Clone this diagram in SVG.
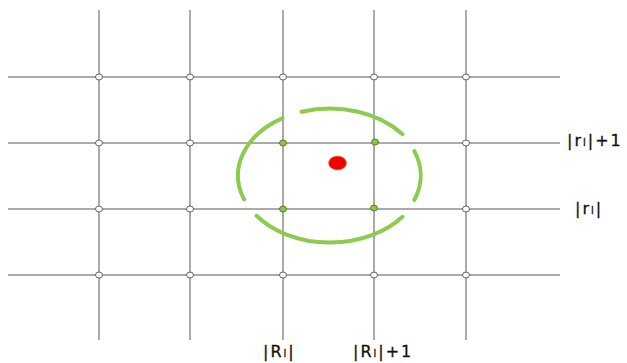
<svg xmlns="http://www.w3.org/2000/svg" width="627" height="363" viewBox="0 0 627 363">
<style>
.g{stroke:#555;stroke-width:1;fill:none}
.n{fill:#fff;stroke:#555;stroke-width:0.9}
.gn{fill:#8cc63f;stroke:#4a6a2a;stroke-width:0.8}
.arc{fill:none;stroke:#8dcb50;stroke-width:4;stroke-linecap:round}
.t{font-family:"DejaVu Sans",Verdana,sans-serif;font-size:16px;fill:#111;letter-spacing:2px;stroke:#111;stroke-width:0.3}
.s{font-size:10px}
</style>
<rect width="627" height="363" fill="#fff"/>
<g id="connectors">
<line class="g" x1="99" y1="10" x2="99" y2="340"/>
<line class="g" x1="190" y1="10" x2="190" y2="340"/>
<line class="g" x1="283" y1="10" x2="283" y2="340"/>
<line class="g" x1="374" y1="10" x2="374" y2="340"/>
<line class="g" x1="466" y1="10" x2="466" y2="340"/>
<line class="g" x1="8" y1="77" x2="560" y2="77"/>
<line class="g" x1="8" y1="143" x2="560" y2="143"/>
<line class="g" x1="8" y1="209" x2="560" y2="209"/>
<line class="g" x1="8" y1="275" x2="560" y2="275"/>
</g>
<g id="nodes">
<ellipse class="n" cx="99" cy="77" rx="3.5" ry="3"/>
<ellipse class="n" cx="190" cy="77" rx="3.5" ry="3"/>
<ellipse class="n" cx="283" cy="77" rx="3.5" ry="3"/>
<ellipse class="n" cx="374" cy="77" rx="3.5" ry="3"/>
<ellipse class="n" cx="466" cy="77" rx="3.5" ry="3"/>
<ellipse class="n" cx="99" cy="143" rx="3.5" ry="3"/>
<ellipse class="n" cx="190" cy="143" rx="3.5" ry="3"/>
<ellipse class="gn" cx="283" cy="143" rx="3.5" ry="3"/>
<ellipse class="gn" cx="375" cy="142" rx="3.5" ry="3"/>
<ellipse class="n" cx="466" cy="143" rx="3.5" ry="3"/>
<ellipse class="n" cx="99" cy="209" rx="3.5" ry="3"/>
<ellipse class="n" cx="190" cy="209" rx="3.5" ry="3"/>
<ellipse class="gn" cx="283" cy="209" rx="3.5" ry="3"/>
<ellipse class="gn" cx="374" cy="208" rx="3.5" ry="3"/>
<ellipse class="n" cx="466" cy="209" rx="3.5" ry="3"/>
<ellipse class="n" cx="99" cy="275" rx="3.5" ry="3"/>
<ellipse class="n" cx="190" cy="275" rx="3.5" ry="3"/>
<ellipse class="n" cx="283" cy="275" rx="3.5" ry="3"/>
<ellipse class="n" cx="374" cy="275" rx="3.5" ry="3"/>
<ellipse class="n" cx="466" cy="275" rx="3.5" ry="3"/>
</g>
<g id="circle">
<path class="arc" d="M301.6,111.8 A92 67 0 0 1 402.5,134.2"/>
<path class="arc" d="M414.3,151 A92 67 0 0 1 414.3,200"/>
<path class="arc" d="M402.5,216.8 A92 67 0 0 1 256.5,215.8"/>
<path class="arc" d="M244.1,199.5 A92 67 0 0 1 282.6,118.1"/>
</g>
<g id="point">
<ellipse cx="337.5" cy="163" rx="9" ry="7" fill="#ee0000" stroke="#f08060" stroke-width="0.8"/>
</g>
<g id="labels">
<text class="t" x="567" y="146">|r<tspan class="s">l</tspan>|+1</text>
<text class="t" x="575" y="214">|r<tspan class="s">l</tspan>|</text>
<text class="t" x="263" y="357">|R<tspan class="s">l</tspan>|</text>
<text class="t" x="353" y="357">|R<tspan class="s">l</tspan>|+1</text>
</g>
</svg>
